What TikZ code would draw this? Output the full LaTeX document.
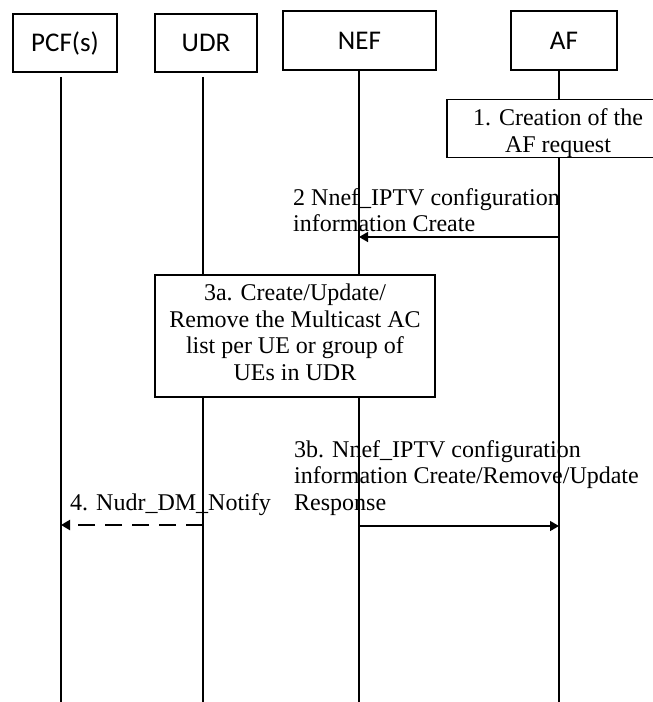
\documentclass[tikz,border=0pt]{standalone}
\usepackage{fontspec}
\setmainfont{Liberation Serif}
\newfontfamily\hdrfont{Carlito}
\usetikzlibrary{arrows.meta}
\begin{document}
\begin{tikzpicture}[x=1pt,y=-1pt,
  hdr/.style={draw, line width=1.5pt, font=\hdrfont\fontsize{27}{30}\selectfont, inner sep=0pt},
  stepbox/.style={draw, line width=1.5pt, fill=white, align=center, font=\fontsize{24}{26.5}\selectfont, inner sep=0pt},
  life/.style={line width=1.3pt},
  msg/.style={line width=1.4pt, -{Triangle[length=9pt,width=10pt]}},
  lbl/.style={align=left, anchor=west, inner sep=0pt, font=\fontsize{24}{26.5}\selectfont}]
\clip (0,0) rectangle (653,702);
% headers
\node[hdr, minimum width=104pt, minimum height=58pt] (pcf) at (65,43) {PCF(s)};
\node[hdr, minimum width=102pt, minimum height=58pt] (udr) at (206,43) {UDR};
\node[hdr, minimum width=153pt, minimum height=59pt] (nef) at (359.5,40.5) {NEF};
\node[hdr, minimum width=106pt, minimum height=59pt] (af) at (564,40.5) {AF};
% lifeline ends
\coordinate (pcfE) at (61,702);
\coordinate (udrE) at (203,702);
\coordinate (nefE) at (359,702);
\coordinate (afE) at (559,702);
% step boxes
\node[stepbox, minimum width=222pt, minimum height=57pt, text height=53pt] (s1) at (558,128.5) {1. Creation of the\\AF request};
\node[stepbox, minimum width=280pt, minimum height=122pt, text depth=8pt] (s3a) at (295,336) {3a. Create/Update/\\Remove the Multicast AC\\list per UE or group of\\UEs in UDR};
% lifelines
\draw[life] (pcf.south -| pcfE) ++(0,4) -- (pcfE);
\draw[life] (udr.south -| udrE) ++(0,4) -- (s3a.north -| udrE);
\draw[life] (s3a.south -| udrE) -- (udrE);
\draw[life] (nef.south -| nefE) -- (s3a.north -| nefE);
\draw[life] (s3a.south -| nefE) -- (nefE);
\draw[life] (af.south -| afE) -- (s1.north -| afE);
\draw[life] (s1.south -| afE) -- (afE);
% messages
\coordinate (m2a) at (afE |- 0,237);
\coordinate (m2b) at (nefE |- 0,237);
\draw[msg] (m2a) -- (m2b);
\node[lbl] (l2) at (293,210) {2 Nnef\_IPTV configuration\\information Create};
\coordinate (m3a) at (nefE |- 0,526);
\coordinate (m3b) at (afE |- 0,526);
\draw[msg] (m3a) -- (m3b);
\node[lbl] (l3b) at (294,478) {3b. Nnef\_IPTV configuration\\information Create/Remove/Update\\Response};
\coordinate (m4a) at (udrE |- 0,525);
\coordinate (m4b) at (pcfE |- 0,525);
\draw[msg, line width=2pt, dash pattern=on 17pt off 10pt] (m4a) -- (m4b);
\node[lbl] (l4) at (70,505) {4. Nudr\_DM\_Notify};
\end{tikzpicture}
\end{document}
